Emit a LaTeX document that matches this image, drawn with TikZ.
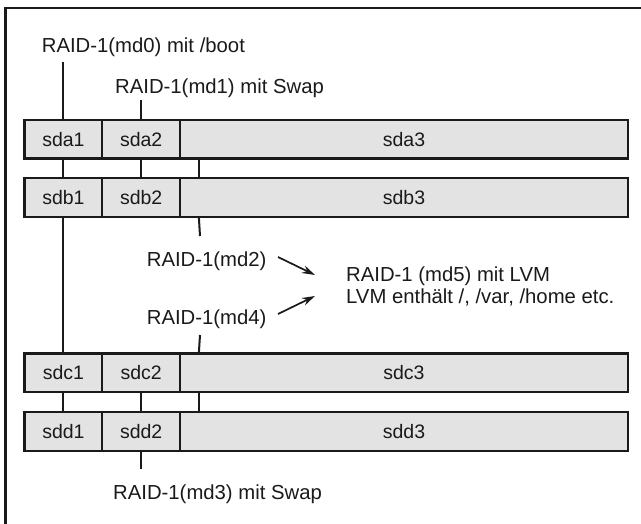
\documentclass[tikz,border=0pt]{standalone}
\usepackage{fontspec}
\setmainfont{Liberation Sans}
\usetikzlibrary{arrows.meta,calc}
\definecolor{cellgray}{HTML}{E3E3E3}
\definecolor{ink}{HTML}{1A1A1A}
\begin{document}
\begin{tikzpicture}[x=1pt,y=-1pt,
  cell/.style={draw=ink,line width=2.2pt,fill=cellgray,minimum height=38.5pt,inner sep=0pt,
    font=\fontsize{19.5}{22}\selectfont,text=ink},
  narrow/.style={minimum width=77.7pt},
  wide/.style={minimum width=448pt},
  lbl/.style={font=\fontsize{20.3}{22}\selectfont,text=ink,inner sep=0pt,anchor=base west},
  conn/.style={draw=ink,line width=2pt},
  arr/.style={draw=ink,line width=1.7pt,-{Stealth[length=13pt,width=8pt]}},
  frame/.style={draw=ink,line width=2.5pt}]
\useasboundingbox (0,0) rectangle (641,524);
\clip (0,0) rectangle (641,524);
\fill[white] (0,0) rectangle (641,524);
\draw[frame] (5.5,540) -- (5.5,8) -- (660,8);

% rows
\node[cell,narrow] (a1) at (63.4,139.25) {sda1};
\node[cell,narrow] (a2) at (141.15,139.25) {sda2};
\node[cell,wide]   (a3) at (404,139.25) {sda3};
\node[cell,narrow] (b1) at (63.4,197.5) {sdb1};
\node[cell,narrow] (b2) at (141.15,197.5) {sdb2};
\node[cell,wide]   (b3) at (404,197.5) {sdb3};
\node[cell,narrow] (c1) at (63.4,372.75) {sdc1};
\node[cell,narrow] (c2) at (141.15,372.75) {sdc2};
\node[cell,wide]   (c3) at (404,372.75) {sdc3};
\node[cell,narrow] (d1) at (63.4,431.5) {sdd1};
\node[cell,narrow] (d2) at (141.15,431.5) {sdd2};
\node[cell,wide]   (d3) at (404,431.5) {sdd3};

% labels
\node[lbl] (md0) at (41.7,53) {RAID-1(md0) mit /boot};
\node[lbl] (md1) at (115,93.3) {RAID-1(md1) mit Swap};
\node[lbl] (md2) at (146.7,266.7) {RAID-1(md2)};
\node[lbl] (md4) at (146.7,324) {RAID-1(md4)};
\node[lbl] (md3) at (113,499) {RAID-1(md3) mit Swap};
\node[lbl] (md5a) at (346,281.7) {RAID-1 (md5) mit LVM};
\node[lbl] (md5b) at (346,303.3) {LVM enthält /, /var, /home etc.};

% connector end points
\coordinate (t0) at (63.4,62);
\coordinate (t1) at (141.15,100);
\coordinate (t2) at (200,236);
\coordinate (t4) at (200,335);
\coordinate (t3) at (141.15,469);
\coordinate (a3x) at ($(a3.south west)+(20,0)$);
\coordinate (b3n) at ($(b3.north west)+(20,0)$);
\coordinate (b3s) at ($(b3.south west)+(20,0)$);
\coordinate (c3n) at ($(c3.north west)+(20,0)$);
\coordinate (c3s) at ($(c3.south west)+(20,0)$);
\coordinate (d3n) at ($(d3.north west)+(20,0)$);
\coordinate (p2s) at (278,257);
\coordinate (p2e) at (315,275);
\coordinate (p4s) at (278,314);
\coordinate (p4e) at (315,296);

% connectors
\draw[conn] (t0) -- (a1.north);
\draw[conn] (t1) -- (a2.north);
\draw[conn] (a1.south) -- (b1.north);
\draw[conn] (a2.south) -- (b2.north);
\draw[conn] (a3x) -- (b3n);
\draw[conn] (b1.south) -- (c1.north);
\draw[conn] (b3s) -- (t2);
\draw[conn] (t4) -- (c3n);
\draw[conn] (c1.south) -- (d1.north);
\draw[conn] (c2.south) -- (d2.north);
\draw[conn] (c3s) -- (d3n);
\draw[conn] (d2.south) -- (t3);

\draw[arr] (p2s) -- (p2e);
\draw[arr] (p4s) -- (p4e);
\end{tikzpicture}
\end{document}
